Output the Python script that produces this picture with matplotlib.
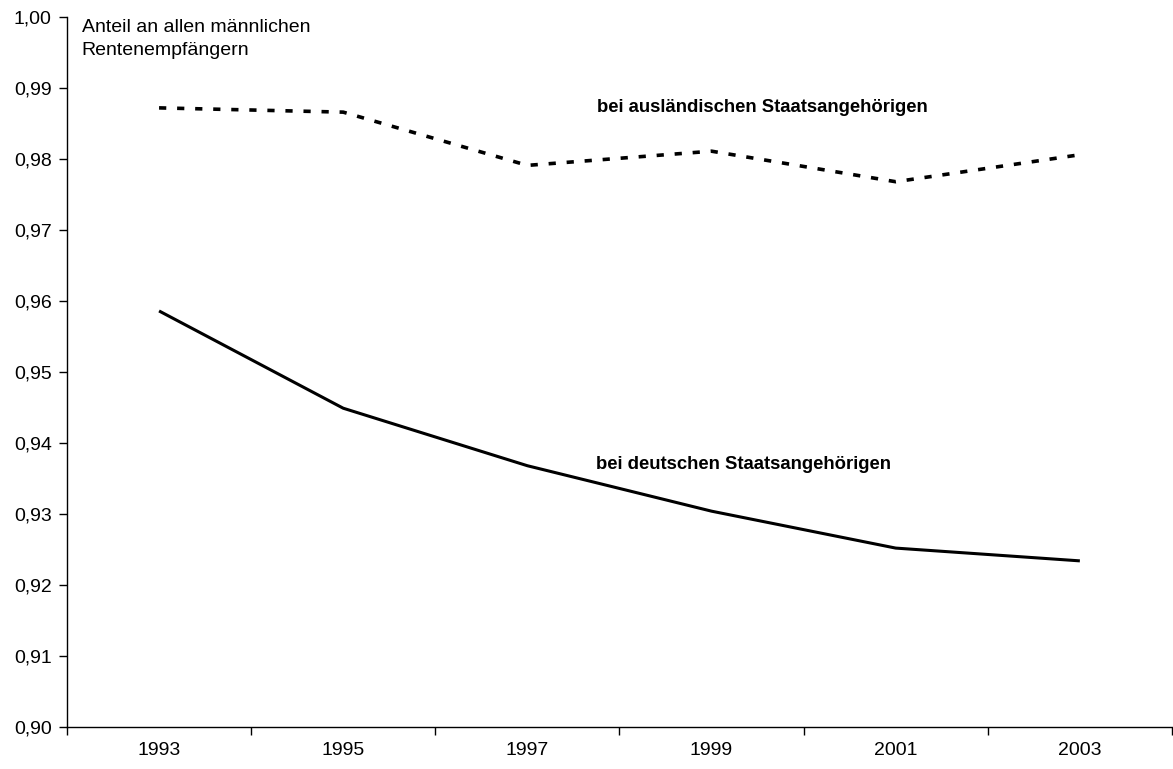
import numpy as np
import matplotlib.pyplot as plt
from matplotlib.ticker import FuncFormatter, MultipleLocator, FixedLocator

plt.rcParams['font.family'] = ['Liberation Sans', 'DejaVu Sans']

jahre = ['1993', '1995', '1997', '1999', '2001', '2003']
deutsche = [0.9586, 0.9449, 0.9368, 0.9304, 0.9252, 0.9234]
auslaender = [0.9872, 0.9866, 0.9791, 0.9811, 0.9768, 0.9806]

fig = plt.figure(figsize=(11.73, 7.69), dpi=100)
ax = fig.add_axes([0.0571, 0.0546, 0.9420, 0.9233])

x = np.arange(len(jahre))
ax.plot(x, deutsche, color='black', lw=2.2, solid_capstyle='butt')
ax.plot(x, auslaender, color='black', lw=2.6, linestyle=(0, (2.0, 3.0)),
        dash_capstyle='butt')

ax.set_xlim(-0.5, len(jahre) - 0.5)
ax.set_ylim(0.90, 1.00)

# y axis: comma decimals
ax.yaxis.set_major_locator(MultipleLocator(0.01))
ax.yaxis.set_major_formatter(FuncFormatter(lambda v, p: f'{v:.2f}'.replace('.', ',')))

# x axis: labels at category centres, ticks between categories
ax.xaxis.set_major_locator(FixedLocator(x))
ax.set_xticklabels(jahre)
ax.xaxis.set_minor_locator(FixedLocator(np.arange(-0.5, len(jahre), 1.0)))
ax.tick_params(axis='x', which='major', length=0, pad=11, labelsize=14)
ax.tick_params(axis='x', which='minor', length=6, width=1, direction='out')
ax.tick_params(axis='y', length=6, width=1, pad=5, labelsize=14)

for side in ['top', 'right']:
    ax.spines[side].set_visible(False)
for side in ['left', 'bottom']:
    ax.spines[side].set_linewidth(1)

ax.text(-0.42, 0.9997, 'Anteil an allen männlichen\nRentenempfängern',
        fontsize=14, va='top', ha='left', linespacing=1.45)
ax.text(2.38, 0.9872, 'bei ausländischen Staatsangehörigen',
        fontsize=13.3, fontweight='bold', va='center', ha='left')
ax.text(2.37, 0.9370, 'bei deutschen Staatsangehörigen',
        fontsize=13.3, fontweight='bold', va='center', ha='left')

fig.savefig('out.png', dpi=100)
